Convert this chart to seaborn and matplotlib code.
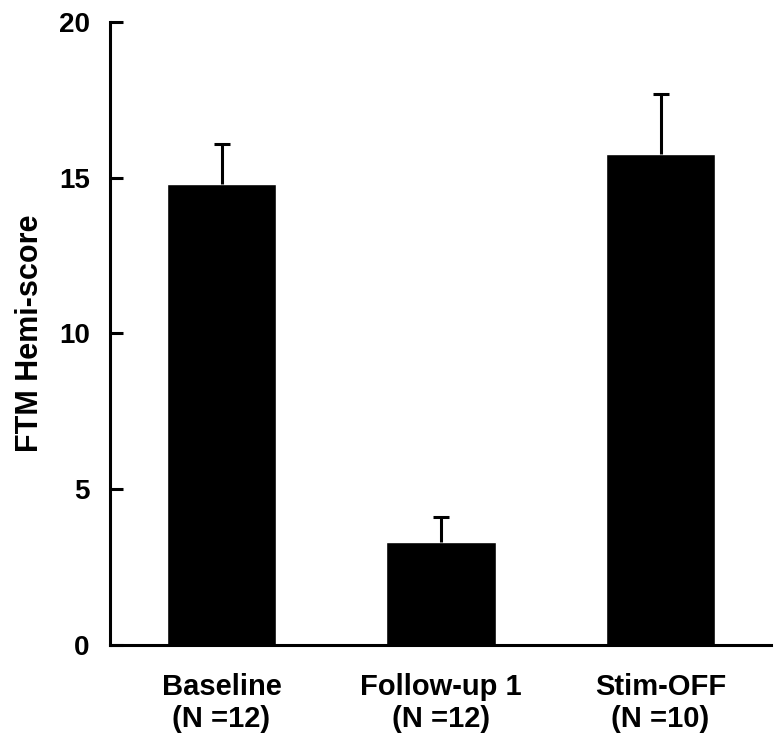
import seaborn as sns
import matplotlib.pyplot as plt
import pandas as pd

groups = ["Baseline\n(N =12)", "Follow-up 1\n(N =12)", "Stim-OFF\n(N =10)"]
means = [14.8, 3.3, 15.75]
sems = [1.27, 0.8, 1.95]

df = pd.DataFrame({"group": groups, "score": means})

sns.set_style("ticks")
plt.rcParams["font.family"] = ["Liberation Sans", "DejaVu Sans"]
plt.rcParams["font.weight"] = "bold"
plt.rcParams["text.color"] = "black"
plt.rcParams["axes.labelcolor"] = "black"
plt.rcParams["xtick.color"] = "black"
plt.rcParams["ytick.color"] = "black"
plt.rcParams["axes.edgecolor"] = "black"

fig = plt.figure(figsize=(7.8, 7.49), dpi=100)
ax = fig.add_axes([0.141, 0.1389, 0.8475, 0.8317])

sns.barplot(data=df, x="group", y="score", color="black", width=0.5,
            errorbar=None, saturation=1, ax=ax)

# one-sided error bars (upward only)
eb = ax.errorbar(range(len(means)), means, yerr=[[0] * len(means), sems],
                 fmt="none", ecolor="black", elinewidth=2.2, capsize=6, capthick=2.2)
eb[1][0].set_visible(False)  # hide the lower caps

ax.set_xlim(-0.508, 2.503)
ax.set_ylim(0, 20)
ax.set_yticks([0, 5, 10, 15, 20])
ax.set_xlabel("")
ax.set_ylabel("FTM Hemi-score", fontsize=22, fontweight="bold")
ax.yaxis.set_label_coords(-0.098, 0.5)

for side in ["top", "right"]:
    ax.spines[side].set_visible(False)
for side in ["left", "bottom"]:
    ax.spines[side].set_linewidth(2.2)

ax.tick_params(axis="y", direction="in", length=9, width=2.2, labelsize=20, pad=14.5)
ax.tick_params(axis="x", length=0, labelsize=21, pad=20)
for lbl in ax.get_xticklabels() + ax.get_yticklabels():
    lbl.set_fontweight("bold")
for lbl in ax.get_xticklabels():
    lbl.set_linespacing(1.2)

plt.savefig("out.png", dpi=100)
